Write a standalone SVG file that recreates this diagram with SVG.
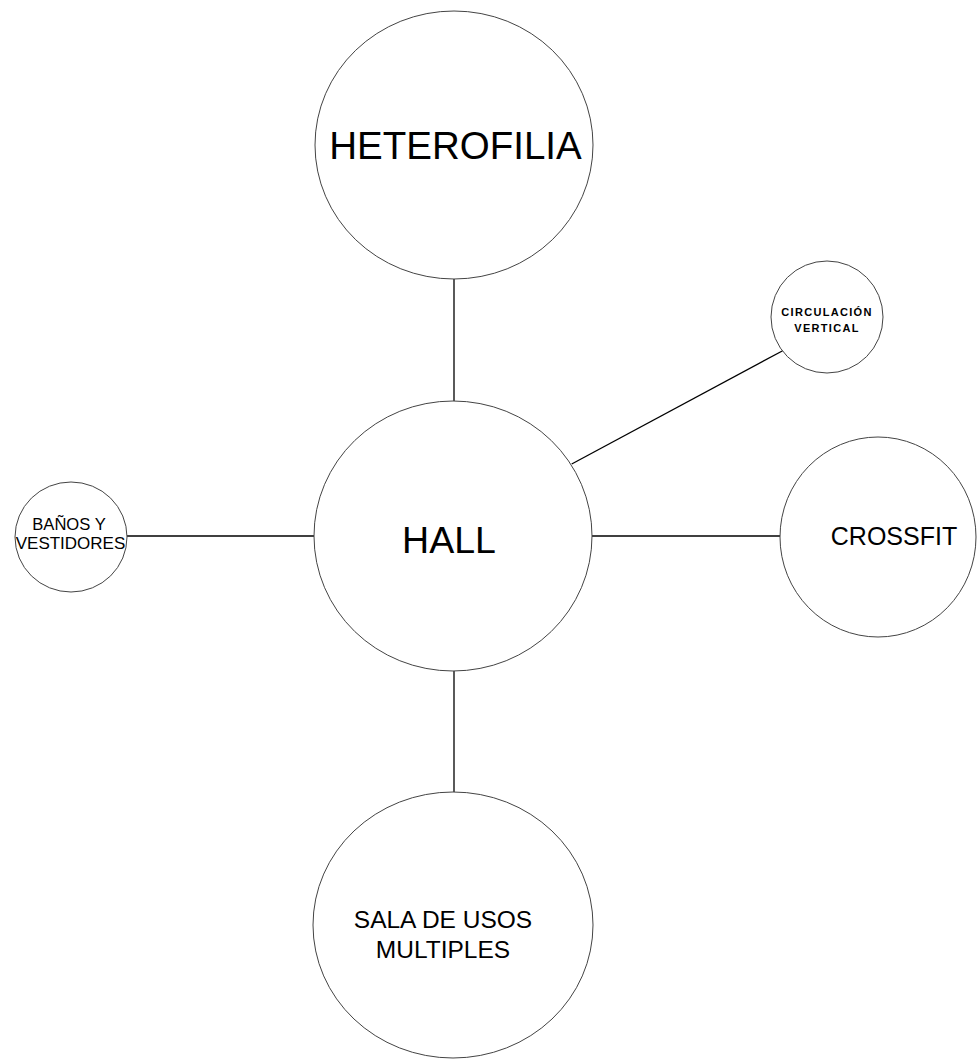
<svg xmlns="http://www.w3.org/2000/svg" width="977" height="1060" viewBox="0 0 977 1060">
<style>
.n{fill:#fff;stroke:#444;stroke-width:1}
.t{font-family:"Liberation Sans",Arial,sans-serif;fill:#000;text-anchor:middle}
.c{stroke:#000;stroke-width:1.3;fill:none}
</style>
<rect width="977" height="1060" fill="#fff"/>
<g id="connectors">
<line class="c" x1="454" y1="279" x2="454" y2="401"/>
<line class="c" x1="454" y1="671" x2="454" y2="792"/>
<line class="c" x1="127" y1="536" x2="314" y2="536"/>
<line class="c" x1="592" y1="536" x2="780" y2="536"/>
<line class="c" x1="571.7" y1="464" x2="782.7" y2="350.7"/>
</g>
<g id="heterofilia">
<ellipse class="n" cx="454" cy="145" rx="139" ry="134"/>
<text class="t" x="455.5" y="159" font-size="38.5">HETEROFILIA</text>
</g>
<g id="hall">
<ellipse class="n" cx="453" cy="536" rx="139" ry="135"/>
<text class="t" x="449" y="553" font-size="37.5">HALL</text>
</g>
<g id="sala">
<ellipse class="n" cx="453" cy="925" rx="140" ry="133"/>
<text class="t" x="443" y="928" font-size="24.5">SALA DE USOS</text>
<text class="t" x="443" y="958" font-size="24.5">MULTIPLES</text>
</g>
<g id="crossfit">
<ellipse class="n" cx="878" cy="537" rx="98" ry="100"/>
<text class="t" x="894" y="545" font-size="25">CROSSFIT</text>
</g>
<g id="circulacion">
<circle class="n" cx="827" cy="317" r="56"/>
<text class="t" x="827" y="316" font-size="11" font-weight="bold" letter-spacing="1.3">CIRCULACIÓN</text>
<text class="t" x="827" y="331.5" font-size="11" font-weight="bold" letter-spacing="1.3">VERTICAL</text>
</g>
<g id="banos">
<ellipse class="n" cx="71" cy="537" rx="56" ry="55"/>
<text class="t" x="69" y="530" font-size="16.6">BAÑOS Y</text>
<text class="t" x="70.5" y="549.3" font-size="17">VESTIDORES</text>
</g>
</svg>
